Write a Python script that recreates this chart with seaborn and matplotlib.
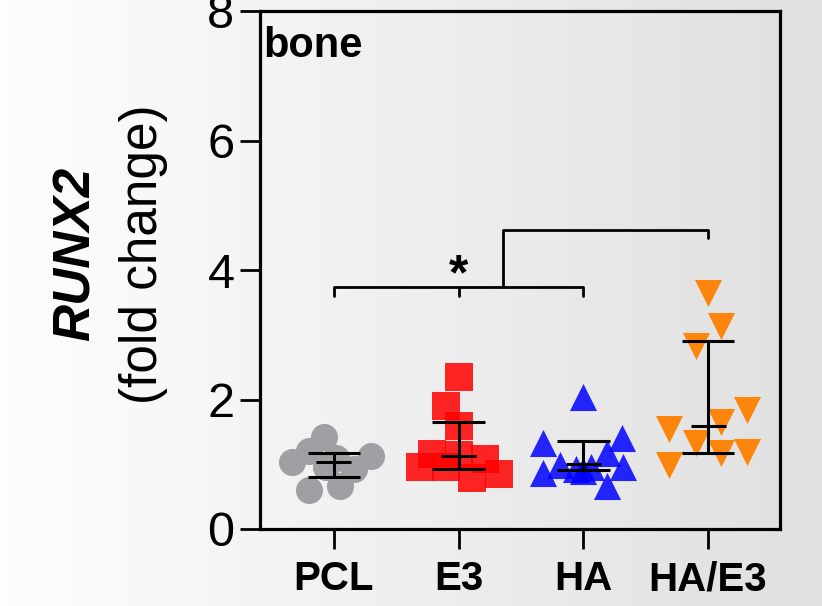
import numpy as np
import pandas as pd
import matplotlib
matplotlib.use('Agg')
import matplotlib.pyplot as plt
import seaborn as sns

sns.set_style("ticks")
plt.rcParams['font.family'] = ['Liberation Sans', 'DejaVu Sans']
plt.rcParams['text.color'] = 'black'
plt.rcParams['xtick.color'] = 'black'
plt.rcParams['ytick.color'] = 'black'
plt.rcParams['axes.labelcolor'] = 'black'

# groups and individual values
groups = ['PCL', 'E3', 'HA', 'HA/E3']
pcl = [1.42, 1.20, 1.03, 1.10, 1.12, 0.92, 0.67, 0.60, 0.96]
e3 = [2.34, 1.90, 1.59, 1.16, 1.14, 1.08, 0.95, 0.95, 0.79, 0.85]
ha = [2.04, 1.33, 1.40, 1.17, 0.99, 0.96, 0.92, 0.87, 0.96, 0.66, 0.89]
ha_e3 = [3.65, 3.14, 2.83, 1.84, 1.65, 1.55, 1.33, 1.17, 1.19, 0.99]

# horizontal scatter of the dots inside each column (category units)
pcl_jit = [-0.08, -0.20, -0.34, 0.02, 0.30, 0.16, 0.05, -0.20, -0.06]
e3_jit = [0.0, -0.10, 0.0, -0.21, 0.0, 0.21, -0.31, -0.10, 0.11, 0.32]
ha_jit = [0.0, -0.32, 0.31, 0.19, -0.19, 0.06, -0.06, -0.32, 0.32, 0.19, 0.0]
ha_e3_jit = [0.0, 0.10, -0.10, 0.31, 0.10, -0.31, -0.10, 0.10, 0.31, -0.31]

# median and interquartile range
med = [1.04, 1.12, 1.00, 1.59]
q1 = [0.80, 0.93, 0.91, 1.18]
q3 = [1.17, 1.66, 1.36, 2.90]

vals = [pcl, e3, ha, ha_e3]
jits = [pcl_jit, e3_jit, ha_jit, ha_e3_jit]
rows = []
for i, g in enumerate(groups):
    for v, j in zip(vals[i], jits[i]):
        rows.append({'group': g, 'x': i + j, 'value': v})
df = pd.DataFrame(rows)

colors = {'PCL': '#a0a0a4', 'E3': '#ff0000', 'HA': '#0000ff', 'HA/E3': '#ff8000'}
markers = {'PCL': 'o', 'E3': 's', 'HA': '^', 'HA/E3': 'v'}
alphas = {'PCL': 1.0, 'E3': 0.85, 'HA': 0.85, 'HA/E3': 0.95}

fig = plt.figure(figsize=(8.22, 6.06), dpi=100)

# gradient background
bg = fig.add_axes([0, 0, 1, 1], zorder=-10)
grad = np.linspace(0.99, 0.875, 256)[None, :]
bg.imshow(grad, cmap='gray', vmin=0, vmax=1, aspect='auto', extent=[0, 1, 0, 1])
bg.axis('off')

ax = fig.add_axes([260/822, 1 - 529/606, 520/822, 518/606])
ax.set_facecolor('none')

for g in groups:
    sub = df[df['group'] == g]
    sns.scatterplot(data=sub, x='x', y='value', color=colors[g], marker=markers[g],
                    s=380, linewidth=0, alpha=alphas[g], ax=ax, legend=False, zorder=1)

xs = np.arange(len(groups))
ax.hlines(q3, xs - 0.21, xs + 0.21, color='black', lw=2.2, zorder=3)
ax.hlines(q1, xs - 0.21, xs + 0.21, color='black', lw=2.2, zorder=3)
ax.hlines(med, xs - 0.14, xs + 0.14, color='black', lw=2.2, zorder=3)
ax.vlines(xs, q1, q3, color='black', lw=2.2, zorder=3)

# significance brackets
ax.plot([0, 0, 2, 2], [3.60, 3.74, 3.74, 3.60], color='black', lw=2)
ax.plot([1, 1], [3.74, 3.60], color='black', lw=2)
ax.plot([1.355, 1.355, 3, 3], [3.74, 4.62, 4.62, 4.49], color='black', lw=2)
ax.text(1.0, 3.70, '*', ha='center', va='baseline', fontsize=36, fontweight='bold')

ax.text(0.006, 0.912, 'bone', transform=ax.transAxes, ha='left', va='baseline',
        fontsize=30, fontweight='bold')

ax.set_xlim(-0.593, 3.577)
ax.set_ylim(0, 8)
ax.set_yticks([0, 2, 4, 6, 8])
ax.set_xticks(xs)
ax.set_xticklabels(groups, fontsize=29, fontweight='bold')
ax.tick_params(axis='y', labelsize=35, length=14.4, width=2, pad=4)
ax.tick_params(axis='x', length=14.4, width=2, pad=8)
for s in ax.spines.values():
    s.set_linewidth(2.3)
    s.set_color('black')
ax.set_xlabel('')
ax.set_ylabel('')

fig.text(76/822, 1 - 254/606, 'RUNX2', rotation=90, ha='center', va='center',
         fontsize=37, fontweight='bold', fontstyle='italic')
fig.text(143/822, 1 - 254/606, '(fold change)', rotation=90, ha='center', va='center',
         fontsize=37)

fig.savefig('out.png', dpi=100)
